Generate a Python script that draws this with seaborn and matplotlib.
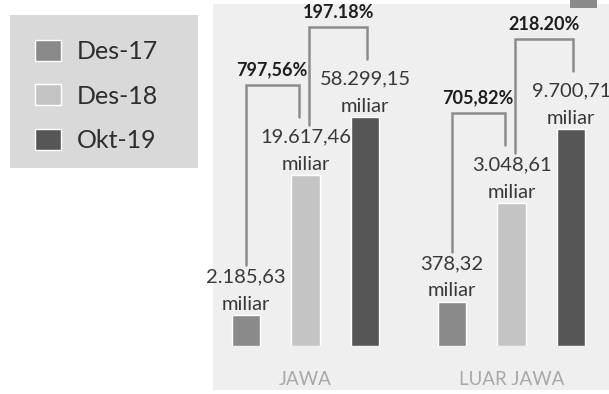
import matplotlib
matplotlib.use("Agg")
import matplotlib.pyplot as plt
import seaborn as sns
import pandas as pd
from matplotlib.patches import Rectangle

# ---- data ----
regions = ["JAWA", "LUAR JAWA"]
periods = ["Des-17", "Des-18", "Okt-19"]
jawa_values = [2185.63, 19617.46, 58299.15]       # miliar
luar_values = [378.32, 3048.61, 9700.71]          # miliar
jawa_labels = ["2.185,63", "19.617,46", "58.299,15"]
luar_labels = ["378,32", "3.048,61", "9.700,71"]
# bar lengths as drawn in the infographic (not to scale with the values)
jawa_heights = [31, 171, 229]
luar_heights = [44, 143, 217]
jawa_growth = ["797,56%", "197.18%"]
luar_growth = ["705,82%", "218.20%"]
unit_label = "miliar"

colors = ["#8a8a8a", "#c4c4c4", "#565656"]

rows = []
for reg, hts, vals, labs in [(regions[0], jawa_heights, jawa_values, jawa_labels),
                             (regions[1], luar_heights, luar_values, luar_labels)]:
    for p, h, v, l in zip(periods, hts, vals, labs):
        rows.append(dict(region=reg, period=p, height=h, value=v, label=l))
df = pd.DataFrame(rows)

sns.set_theme(style="white")
plt.rcParams["font.family"] = ["Lato", "DejaVu Sans"]

W, H = 609, 394
fig = plt.figure(figsize=(W / 100, H / 100), dpi=100)
fig.patch.set_facecolor("white")

# light photo-like panel behind the chart
fig.patches.append(Rectangle((213 / W, 4 / H), (W - 213) / W, (H - 8) / H,
                             transform=fig.transFigure, facecolor="#efefef",
                             edgecolor="none", zorder=-5))
# legend box
fig.patches.append(Rectangle((10 / W, 1 - 168 / H), 188 / W, 153 / H,
                             transform=fig.transFigure, facecolor="#d9d9d9",
                             edgecolor="none", zorder=-4))
# cut-off element at the top right
fig.patches.append(Rectangle((570 / W, 1 - 8 / H), 27 / W, 8 / H,
                             transform=fig.transFigure, facecolor="#8a8a8a",
                             edgecolor="none", zorder=-4))

base = 346  # baseline in pixels from top
ax = fig.add_axes([0, (H - base) / H, 1, base / H])
ax.set_facecolor("none")
ax.patch.set_alpha(0)

sns.barplot(data=df, x="region", y="height", hue="period", hue_order=periods,
            palette=colors, saturation=1, width=0.87, gap=0.53,
            errorbar=None, ax=ax)

ax.set_xlim(-305.5 / 206, (W - 305.5) / 206)
ax.set_ylim(0, base)
for s in ax.spines.values():
    s.set_visible(False)
ax.set_yticks([])
ax.set_xlabel("")
ax.set_ylabel("")
ax.tick_params(axis="x", length=0, pad=18, colors="#a8a8a8", labelsize=13.5)

# ---- annotations ----
dx = 7 / 206
line_kw = dict(color="#8c8c8c", lw=1.8, solid_joinstyle="miter", clip_on=False)
growths = [jawa_growth, luar_growth]
for j, reg in enumerate(regions):
    bars = [ax.containers[i][j] for i in range(len(periods))]
    sub = df[df.region == reg].reset_index(drop=True)
    for i, b in enumerate(bars):
        cx = b.get_x() + b.get_width() / 2
        h = b.get_height()
        ax.text(cx, h + 11, unit_label, ha="center", va="center",
                fontsize=14.5, color="#383838")
        ax.text(cx, h + 38, sub.label[i], ha="center", va="center",
                fontsize=14.5, color="#383838")
    for k in range(len(bars) - 1):
        lo, up = bars[k], bars[k + 1]
        xl = lo.get_x() + lo.get_width() / 2 + (dx * 0.5 if k > 0 else 0)
        xr = up.get_x() + up.get_width() / 2 + (-dx if k == 0 else dx * 0.3)
        top = max(lo.get_height(), up.get_height()) + 90
        ax.plot([xl, xl, xr, xr],
                [lo.get_height() + 50, top, top, up.get_height() + 58], **line_kw)
        ax.text((xl + xr) / 2, top + 15, growths[j][k], ha="center", va="center",
                fontsize=13, fontweight="bold", color="#1e1e1e")

# legend
sns.move_legend(ax, "upper left", bbox_to_anchor=(35 / W, 1 - 40 / H),
                bbox_transform=fig.transFigure, title=None, frameon=False,
                fontsize=18, handlelength=1.04, handleheight=0.92,
                handletextpad=0.64, labelspacing=0.85, borderpad=0,
                borderaxespad=0)
for t in ax.get_legend().get_texts():
    t.set_color("#2e2e2e")

fig.savefig("out.png", dpi=100)
